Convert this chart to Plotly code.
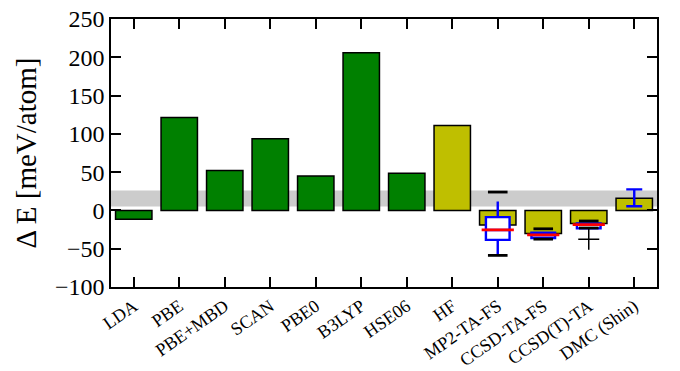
import plotly.graph_objects as go

methods = ["LDA", "PBE", "PBE+MBD", "SCAN", "PBE0", "B3LYP", "HSE06",
           "HF", "MP2-TA-FS", "CCSD-TA-FS", "CCSD(T)-TA", "DMC (Shin)"]
delta_e = [-11.5, 121.5, 52, 93.5, 45, 206, 48.5, 111, -19, -30, -17, 16]
bar_colors = ["#008000"] * 7 + ["#bfbf00"] * 5

# reference band (experiment)
band_low, band_high = 5.2, 26

# box statistics for wavefunction methods
box_x = [8, 9, 10]
box_q1 = [-38.5, -36, -23.5]
box_med = [-25.5, -32, -18.5]
box_q3 = [-8.7, -29, -17]
box_lo = [-58.7, -37.5, -23]
box_hi = [11.5, -28, -17]
cap_x = [8, 8, 9, 9, 10, 10]
cap_y = [24, -58.7, -24, -37.5, -13.8, -23]
flier_x = [10]
flier_y = [-37.5]

# DMC error bar
dmc_x = [11]
dmc_y = [16.5]
dmc_err = [11]

yticks = [-100, -50, 0, 50, 100, 150, 200, 250]

fig = go.Figure()
fig.add_trace(go.Bar(x=list(range(len(methods))), y=delta_e, width=0.8,
                     marker=dict(color=bar_colors, line=dict(color="black", width=1.5)),
                     showlegend=False))
fig.add_trace(go.Box(x=box_x, q1=box_q1, median=box_med, q3=box_q3,
                     lowerfence=box_lo, upperfence=box_hi, width=0.52,
                     line=dict(color="blue", width=2.4), fillcolor="white",
                     whiskerwidth=0, boxpoints=False, showlegend=False, hoverinfo="skip"))
fig.add_trace(go.Scatter(x=box_x, y=box_med, mode="markers",
                         marker=dict(symbol="line-ew", size=23, line=dict(color="red", width=2.8)),
                         showlegend=False))
fig.add_trace(go.Scatter(x=cap_x, y=cap_y, mode="markers",
                         marker=dict(symbol="line-ew", size=14, line=dict(color="black", width=2.8)),
                         showlegend=False))
fig.add_trace(go.Scatter(x=flier_x, y=flier_y, mode="markers",
                         marker=dict(symbol="cross-thin", size=15, line=dict(color="black", width=1.5)),
                         showlegend=False))
fig.add_trace(go.Scatter(x=dmc_x, y=dmc_y, mode="markers",
                         marker=dict(size=1, color="blue", opacity=0),
                         error_y=dict(type="data", array=dmc_err, visible=True,
                                      color="blue", thickness=2.4, width=8),
                         showlegend=False))

fig.add_shape(type="rect", xref="paper", yref="y", x0=0, x1=1, y0=band_low, y1=band_high,
              fillcolor="#cccccc", line=dict(width=0), layer="below")

font_family = "Liberation Serif, DejaVu Serif, serif"
fig.update_layout(
    width=680, height=371,
    margin=dict(l=111, r=23, t=19, b=84),
    paper_bgcolor="white", plot_bgcolor="white",
    font=dict(family=font_family, color="black"),
    showlegend=False,
    xaxis=dict(range=[-0.5, 11.5], tickmode="array", tickvals=list(range(len(methods))),
               ticktext=methods, tickangle=-35, tickfont=dict(size=18),
               ticks="inside", ticklen=10, tickwidth=1.5, tickcolor="black",
               showline=True, linecolor="black", linewidth=1.5, mirror="ticks",
               showgrid=False, zeroline=False, automargin=False),
    yaxis=dict(range=[-100, 250], tickmode="array", tickvals=yticks,
               tickfont=dict(size=24), ticks="inside", ticklen=10, tickwidth=1.5,
               tickcolor="black", showline=True, linecolor="black", linewidth=1.5,
               mirror="ticks", showgrid=False, zeroline=False, automargin=False,
               title=dict(text="Δ E [meV/atom]", font=dict(size=29), standoff=10)),
)

fig.write_html("out.html")
